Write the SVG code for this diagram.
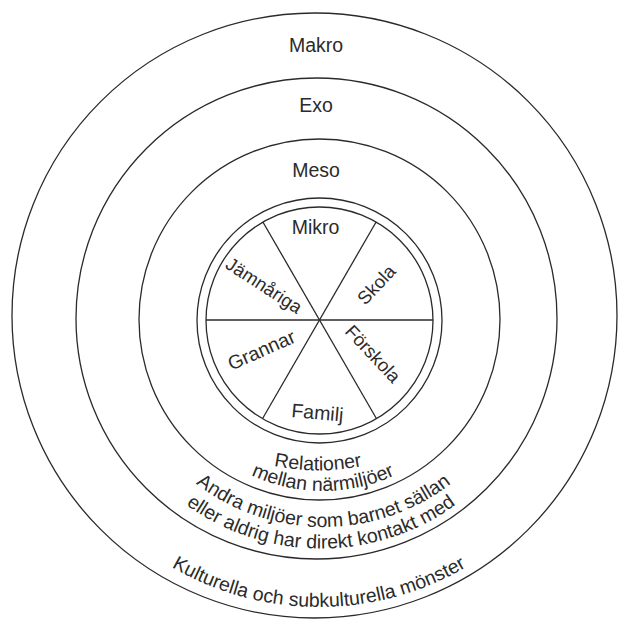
<svg xmlns="http://www.w3.org/2000/svg" width="619" height="627" viewBox="0 0 619 627">
<style>
.ring{fill:none;stroke:#2a2a2a;stroke-width:1.3}
.spoke{stroke:#2a2a2a;stroke-width:1.3}
.lbl{font-family:"Liberation Sans",Arial,sans-serif;font-size:19.5px;fill:#2b2b2b;text-anchor:middle}
.sm{font-size:18.5px}
</style>
<defs>
<path id="pRel" d="M 98 250.5 A 220 220 0 0 0 538 250.5"/>
<path id="pMel" d="M 152.5 320.5 A 170.5 170.5 0 0 0 493.5 320.5"/>
<path id="pAnd" d="M 114.5 318 A 209 209 0 0 0 532.5 318"/>
<path id="pEll" d="M 91.5 319 A 229.5 229.5 0 0 0 550.5 319"/>
<path id="pKul" d="M 27.5 315.5 A 291.5 291.5 0 0 0 610.5 315.5"/>
</defs>
<rect width="619" height="627" fill="#fff"/>
<g id="makro">
<circle class="ring" cx="314.5" cy="315.5" r="302.5"/>
<text class="lbl" x="316" y="52">Makro</text>
<text class="lbl"><textPath href="#pKul" startOffset="50%">Kulturella och subkulturella mönster</textPath></text>
</g>
<g id="exo">
<circle class="ring" cx="316.5" cy="318.5" r="240.5"/>
<text class="lbl" x="316" y="111.5">Exo</text>
<text class="lbl"><textPath href="#pAnd" startOffset="50%">Andra miljöer som barnet sällan</textPath></text>
<text class="lbl"><textPath href="#pEll" startOffset="50%">eller aldrig har direkt kontakt med</textPath></text>
</g>
<g id="meso">
<circle class="ring" cx="319.5" cy="319.5" r="180.5"/>
<text class="lbl" x="316" y="176.5">Meso</text>
<text class="lbl"><textPath href="#pRel" startOffset="50%">Relationer</textPath></text>
<text class="lbl"><textPath href="#pMel" startOffset="50%">mellan närmiljöer</textPath></text>
</g>
<g id="mikro">
<circle class="ring" cx="319.5" cy="320.5" r="122.5"/>
<circle class="ring" cx="319.5" cy="320.5" r="113.5"/>
<line class="spoke" x1="206" y1="320" x2="433" y2="320"/>
<line class="spoke" x1="262.75" y1="221.7" x2="376.25" y2="418.3"/>
<line class="spoke" x1="376.25" y1="221.7" x2="262.75" y2="418.3"/>
<text class="lbl" x="315.5" y="234">Mikro</text>
</g>
<g id="jamnariga"><text class="lbl sm" transform="translate(263.3,286.7) rotate(33)" y="5">Jämnåriga</text></g>
<g id="skola"><text class="lbl sm" transform="translate(376.7,285) rotate(-47)" y="6">Skola</text></g>
<g id="forskola"><text class="lbl sm" transform="translate(372.7,354) rotate(47)" y="6">Förskola</text></g>
<g id="grannar"><text class="lbl" transform="translate(261.7,350.7) rotate(-24)" y="6">Grannar</text></g>
<g id="familj"><text class="lbl" transform="translate(317.3,414.3) rotate(5)" y="5">Familj</text></g>
</svg>
